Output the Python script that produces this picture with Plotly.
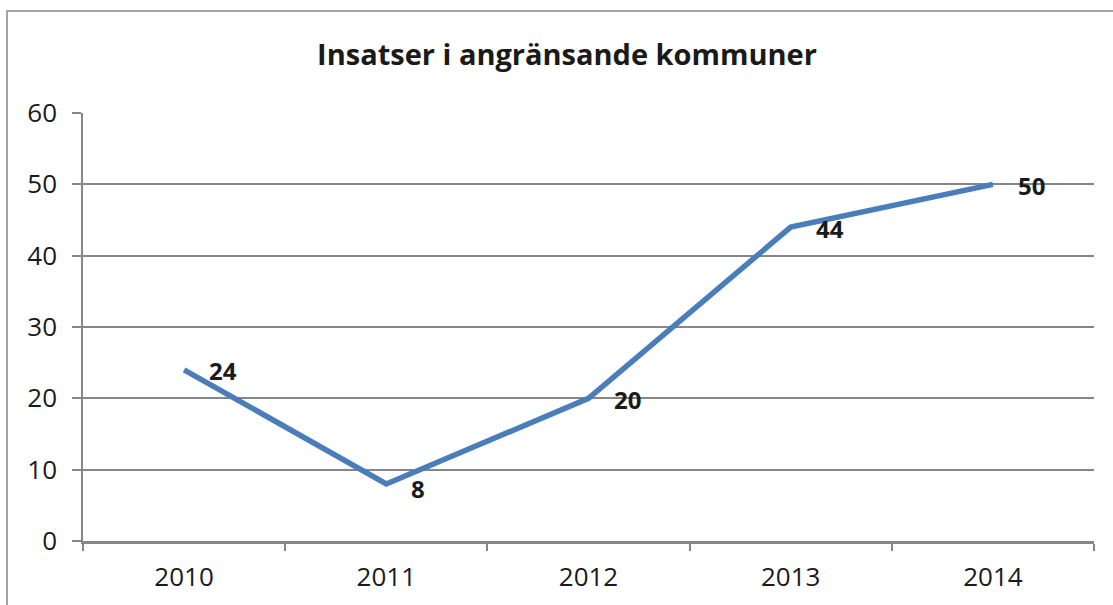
import plotly.graph_objects as go

years = ["2010", "2011", "2012", "2013", "2014"]
values = [24, 8, 20, 44, 50]
title_text = "Insatser i angränsande kommuner"

W, H = 1113, 605
L, R, T, B = 83, 19, 113, 64
pw, ph = W - L - R, H - T - B

fig = go.Figure()
fig.add_trace(go.Scatter(
    x=years, y=values, mode="lines",
    line=dict(color="#4A7EBB", width=5.5),
    hoverinfo="skip", showlegend=False,
))

for i, v in enumerate(values):
    fig.add_annotation(
        x=i, y=v, xref="x", yref="y", text=f"<b>{v}</b>", showarrow=False,
        xanchor="left", yanchor="middle", xshift=23, yshift=-1 if v != 8 else -5,
        font=dict(family="Open Sans", size=24, color="#1a1a1a"),
    )

# outer chart border
fig.add_shape(
    type="rect", xref="paper", yref="paper",
    x0=(7 - L) / pw, x1=(W + 5 - L) / pw,
    y0=-(B + 5) / ph, y1=(H - B - 11) / ph,
    line=dict(color="#868686", width=1.5), layer="below",
)

fig.update_layout(
    width=W, height=H,
    margin=dict(l=L, r=R, t=T, b=B),
    paper_bgcolor="white", plot_bgcolor="white",
    font=dict(family="Open Sans", size=26, color="#1a1a1a"),
    title=dict(
        text=f"<b>{title_text}</b>",
        x=567 / W, xanchor="center", xref="container",
        y=1 - 55 / H, yanchor="middle", yref="container",
        font=dict(family="Open Sans", size=29, color="#1a1a1a"),
    ),
    xaxis=dict(
        type="category", range=[-0.5, 4.5],
        tickson="boundaries", ticks="outside", ticklen=7, tickcolor="#868686", tickwidth=1.5,
        showline=True, linecolor="#868686", linewidth=2.5,
        showgrid=False, zeroline=False,
        ticklabelstandoff=11,
    ),
    yaxis=dict(
        range=[0, 60], dtick=10, tick0=0,
        ticks="outside", ticklen=9, tickcolor="#868686", tickwidth=1.5,
        showline=True, linecolor="#868686", linewidth=1.5,
        showgrid=True, gridcolor="#868686", gridwidth=1.5,
        zeroline=False, ticklabelstandoff=10,
    ),
)

fig.write_html(
    "out.html",
    config={"displayModeBar": False},
    post_script="document.body.style.margin='0';document.body.style.overflow='hidden';",
)
